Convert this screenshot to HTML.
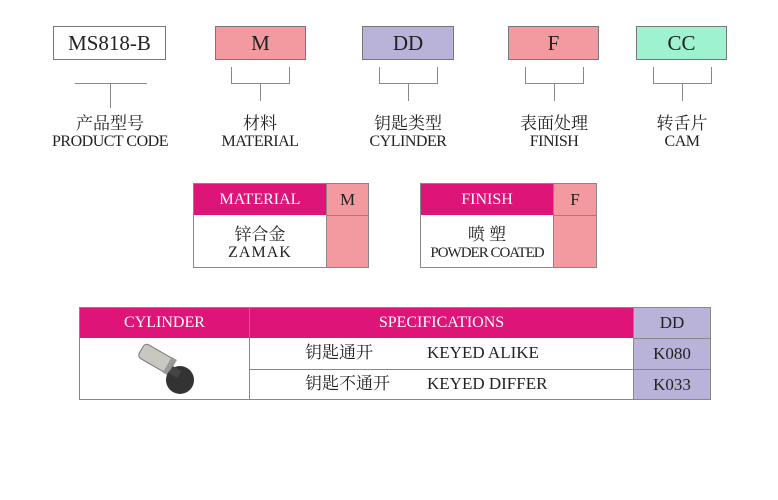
<!DOCTYPE html>
<html><head><meta charset="utf-8"><style>
body{margin:0;width:778px;height:500px;background:#fff;position:relative;font-family:"Liberation Serif","Noto Serif CJK SC",serif;color:#222;overflow:hidden}
.a{position:absolute;box-sizing:border-box}
.b{border:1px solid #777;display:flex;align-items:center;justify-content:center;font-size:21px}
.l{background:#888}
.t{text-align:center;line-height:18px}
.cn{font-size:17px}
.en{font-size:16px;letter-spacing:-0.5px}
.mg{background:#de1478;color:#fff}
.pk{background:#f29a9f}
.lv{background:#b9b3d9}
.r{font-size:17px;white-space:nowrap;line-height:20px;height:20px}
</style></head><body>
<div class="a b" style="left:53px;top:26px;width:113px;height:34px;background:#fff">MS818-B</div>
<div class="a b pk" style="left:215px;top:26px;width:91px;height:34px">M</div>
<div class="a b lv" style="left:362px;top:26px;width:92px;height:34px">DD</div>
<div class="a b pk" style="left:508px;top:26px;width:91px;height:34px">F</div>
<div class="a b" style="left:636px;top:26px;width:91px;height:34px;background:#9ff2cf">CC</div>

<div class="a l" style="left:75px;top:83px;width:72px;height:1px"></div>
<div class="a l" style="left:110px;top:83px;width:1px;height:25px"></div>

<div class="a l" style="left:231px;top:67px;width:1px;height:16px"></div><div class="a l" style="left:289px;top:67px;width:1px;height:16px"></div><div class="a l" style="left:231px;top:83px;width:59px;height:1px"></div><div class="a l" style="left:260px;top:83px;width:1px;height:18px"></div>
<div class="a l" style="left:379px;top:67px;width:1px;height:16px"></div><div class="a l" style="left:437px;top:67px;width:1px;height:16px"></div><div class="a l" style="left:379px;top:83px;width:59px;height:1px"></div><div class="a l" style="left:408px;top:83px;width:1px;height:18px"></div>
<div class="a l" style="left:525px;top:67px;width:1px;height:16px"></div><div class="a l" style="left:583px;top:67px;width:1px;height:16px"></div><div class="a l" style="left:525px;top:83px;width:59px;height:1px"></div><div class="a l" style="left:554px;top:83px;width:1px;height:18px"></div>
<div class="a l" style="left:653px;top:67px;width:1px;height:16px"></div><div class="a l" style="left:711px;top:67px;width:1px;height:16px"></div><div class="a l" style="left:653px;top:83px;width:59px;height:1px"></div><div class="a l" style="left:682px;top:83px;width:1px;height:18px"></div>

<div class="a t" style="left:30px;top:115px;width:160px"><div class="cn">产品型号</div><div class="en">PRODUCT CODE</div></div>
<div class="a t" style="left:190px;top:115px;width:140px"><div class="cn">材料</div><div class="en">MATERIAL</div></div>
<div class="a t" style="left:338px;top:115px;width:140px"><div class="cn">钥匙类型</div><div class="en">CYLINDER</div></div>
<div class="a t" style="left:484px;top:115px;width:140px"><div class="cn">表面处理</div><div class="en">FINISH</div></div>
<div class="a t" style="left:612px;top:115px;width:140px"><div class="cn">转舌片</div><div class="en">CAM</div></div>

<div class="a" style="left:193px;top:183px;width:176px;height:85px;border:1px solid #888"></div>
<div class="a mg" style="left:194px;top:184px;width:132px;height:31px;font-size:16px;display:flex;align-items:center;justify-content:center">MATERIAL</div>
<div class="a pk" style="left:326px;top:184px;width:42px;height:31px;border-left:1px solid #888;font-size:17px;display:flex;align-items:center;justify-content:center">M</div>
<div class="a pk" style="left:326px;top:215px;width:42px;height:52px;border-left:1px solid #888;border-top:1px solid #888"></div>
<div class="a t" style="left:194px;top:226px;width:132px"><div class="cn">锌合金</div><div class="en" style="letter-spacing:1px">ZAMAK</div></div>

<div class="a" style="left:420px;top:183px;width:177px;height:85px;border:1px solid #888"></div>
<div class="a mg" style="left:421px;top:184px;width:132px;height:31px;font-size:16px;display:flex;align-items:center;justify-content:center">FINISH</div>
<div class="a pk" style="left:553px;top:184px;width:43px;height:31px;border-left:1px solid #888;font-size:17px;display:flex;align-items:center;justify-content:center">F</div>
<div class="a pk" style="left:553px;top:215px;width:43px;height:52px;border-left:1px solid #888;border-top:1px solid #888"></div>
<div class="a t" style="left:421px;top:226px;width:132px"><div class="cn">喷 塑</div><div class="en" style="letter-spacing:-1px;font-size:15px">POWDER COATED</div></div>

<div class="a" style="left:79px;top:307px;width:632px;height:93px;border:1px solid #888"></div>
<div class="a mg" style="left:80px;top:308px;width:169px;height:30px;font-size:16px;display:flex;align-items:center;justify-content:center">CYLINDER</div>
<div class="a mg" style="left:249px;top:308px;width:384px;height:30px;border-left:1px solid #888;font-size:16px;display:flex;align-items:center;justify-content:center">SPECIFICATIONS</div>
<div class="a lv" style="left:633px;top:308px;width:77px;height:30px;border-left:1px solid #888;font-size:17px;display:flex;align-items:center;justify-content:center">DD</div>
<div class="a" style="left:249px;top:338px;width:1px;height:62px;background:#888"></div>
<div class="a" style="left:249px;top:369px;width:384px;height:1px;background:#888"></div>
<div class="a lv" style="left:633px;top:338px;width:77px;height:31px;border-left:1px solid #888;border-top:1px solid #888;font-size:17px;display:flex;align-items:center;justify-content:center">K080</div>
<div class="a lv" style="left:633px;top:369px;width:77px;height:30px;border-left:1px solid #888;border-top:1px solid #888;font-size:17px;display:flex;align-items:center;justify-content:center">K033</div>
<div class="a r" style="left:305px;top:343px">钥匙通开</div>
<div class="a r" style="left:427px;top:343px">KEYED ALIKE</div>
<div class="a r" style="left:305px;top:374px">钥匙不通开</div>
<div class="a r" style="left:427px;top:374px">KEYED DIFFER</div>
<svg class="a" style="left:130px;top:342px" width="70" height="56">
<g transform="rotate(30 25 18)"><rect x="8" y="8" width="34" height="16" rx="4" fill="#c8c8c0" stroke="#777"/><rect x="38" y="7" width="6" height="18" fill="#999"/></g>
<circle cx="50" cy="38" r="14" fill="#333"/><rect x="40" y="26" width="10" height="8" fill="#444" transform="rotate(30 45 30)"/>
</svg>
</body></html>
